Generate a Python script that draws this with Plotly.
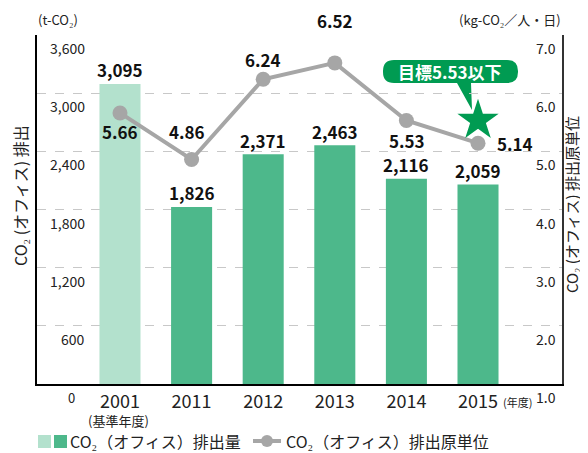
import plotly.graph_objects as go

# データ
years = ["2001", "2011", "2012", "2013", "2014", "2015"]
emissions = [3095, 1826, 2371, 2463, 2116, 2059]          # t-CO2
intensity = [5.66, 4.86, 6.24, 6.52, 5.53, 5.14]          # kg-CO2/人・日
target = 5.53
left_ticks = [0, 600, 1200, 1800, 2400, 3000, 3600]
right_ticks = [1.0, 2.0, 3.0, 4.0, 5.0, 6.0, 7.0]

FONT = "Noto Sans CJK JP"
LIGHT = "#b3e1cd"
DARK = "#4db88b"
GRAY = "#a6a6a6"
GREEN = "#009b52"

OFF = 8                      # ページの余白 (body margin)
W, H = 588 - OFF, 453 - OFF
L, R, T, B = 37, 562, 35, 384   # グラフ領域 (画面座標)


def px(x):
    return (x - L) / (R - L)


def py(y):
    return (B - y) / (B - T)


def text(x, y, s, size, color="#222", angle=0, xa="center", bold=False):
    return dict(x=px(x), y=py(y), xref="paper", yref="paper",
                text=f"<b>{s}</b>" if bold else s, showarrow=False,
                xanchor=xa, yanchor="middle", textangle=angle,
                font=dict(family=FONT, size=size, color=color))


xs = list(range(len(years)))

fig = go.Figure()

fig.add_trace(go.Bar(
    x=xs, y=emissions, width=0.573,
    marker=dict(color=[LIGHT] + [DARK] * (len(years) - 1), line=dict(width=0)),
    showlegend=False, hoverinfo="skip",
))

fig.add_trace(go.Scatter(
    x=xs, y=intensity, yaxis="y2", mode="lines+markers",
    line=dict(color=GRAY, width=4),
    marker=dict(color=GRAY, size=15),
    showlegend=False, hoverinfo="skip",
))

fig.add_trace(go.Scatter(
    x=[xs[-1]], y=[target], yaxis="y2", mode="markers",
    marker=dict(symbol="star", color=GREEN, size=31, line=dict(width=0)),
    showlegend=False, hoverinfo="skip",
))

ann = []

# 棒グラフの数値
for x, v in zip(xs, emissions):
    ann.append(dict(x=x, y=v, xref="x", yref="y", text=f"<b>{v:,}</b>",
                    showarrow=False, yshift=14, xanchor="center", yanchor="middle",
                    font=dict(family=FONT, size=17, color="#111")))

# 折れ線の数値 (位置のずれ)
offsets = [(0, 19), (-5, -28), (0, -20), (0, -42), (1, 20), (37, 0)]
for x, v, (dx, dy) in zip(xs, intensity, offsets):
    ann.append(dict(x=x, y=v, xref="x", yref="y2", text=f"<b>{v:.2f}</b>",
                    showarrow=False, xshift=dx, yshift=-dy,
                    xanchor="center", yanchor="middle",
                    font=dict(family=FONT, size=17, color="#111")))

# 左軸目盛
for v in left_ticks:
    ann.append(dict(x=px(77 if v == 0 else 87), y=v, xref="paper", yref="y",
                    text=f"{v:,}", showarrow=False, xanchor="right", yanchor="middle",
                    yshift=-13, font=dict(family=FONT, size=13 if v == 0 else 14, color="#222")))

# 右軸目盛
for v in right_ticks:
    ann.append(dict(x=px(558), y=v, xref="paper", yref="y2",
                    text=f"{v:.1f}", showarrow=False, xanchor="right", yanchor="middle",
                    yshift=-13, font=dict(family=FONT, size=14, color="#222")))

# 単位・軸タイトル・凡例
ann += [
    text(36, 19, "(t-CO₂)", 13, xa="left"),
    text(563, 19, "(kg-CO₂／人・日)", 13, xa="right"),
    text(20, 196, "CO₂ (オフィス) 排出", 16, angle=-90),
    text(571, 205, "CO₂ (オフィス) 排出原単位", 15, angle=-90),
    text(118, 420, "(基準年度)", 13),
    text(517, 402, "(年度)", 11),
    text(450, 71, f"目標{target}以下", 17, color="white", bold=True),
    text(68, 441, "CO₂（オフィス）排出量", 16, xa="left"),
    text(284, 441, "CO₂（オフィス）排出原単位", 16, xa="left"),
]

# 吹き出し
x0, x1, y0, y1, r = 383, 518, 60, 83, 11
path = (f"M {px(x0 + r)} {py(y0)} L {px(x1 - r)} {py(y0)} "
        f"Q {px(x1)} {py(y0)} {px(x1)} {py(y0 + r)} L {px(x1)} {py(y1 - r)} "
        f"Q {px(x1)} {py(y1)} {px(x1 - r)} {py(y1)} "
        f"L {px(471)} {py(y1)} L {px(472)} {py(110)} L {px(457)} {py(y1)} "
        f"L {px(x0 + r)} {py(y1)} "
        f"Q {px(x0)} {py(y1)} {px(x0)} {py(y1 - r)} L {px(x0)} {py(y0 + r)} "
        f"Q {px(x0)} {py(y0)} {px(x0 + r)} {py(y0)} Z")

shapes = [
    dict(type="path", xref="paper", yref="paper", path=path,
         fillcolor=GREEN, line=dict(width=0), layer="below"),
    # 凡例
    dict(type="rect", xref="paper", yref="paper", x0=px(38), x1=px(51), y0=py(448), y1=py(435),
         fillcolor=LIGHT, line=dict(width=0)),
    dict(type="rect", xref="paper", yref="paper", x0=px(54), x1=px(67), y0=py(448), y1=py(435),
         fillcolor=DARK, line=dict(width=0)),
    dict(type="line", xref="paper", yref="paper", x0=px(253), x1=px(281), y0=py(441), y1=py(441),
         line=dict(color=GRAY, width=4)),
    dict(type="circle", xref="paper", yref="paper", x0=px(261), x1=px(273), y0=py(447), y1=py(435),
         fillcolor=GRAY, line=dict(width=0)),
]

fig.update_layout(
    width=W, height=H,
    margin=dict(l=L - OFF, r=W - (R - OFF), t=T - OFF, b=H - (B - OFF), autoexpand=False),
    paper_bgcolor="white", plot_bgcolor="white",
    font=dict(family=FONT, color="#222"),
    xaxis=dict(range=[-1.159, 6.173], tickvals=xs, ticktext=years,
               showgrid=False, zeroline=False, showline=True, linecolor="black",
               linewidth=2, ticks="", tickfont=dict(family=FONT, size=18, color="#222")),
    yaxis=dict(range=[0, 3600], dtick=600, showgrid=True, gridcolor="#c8c8c8",
               griddash="dash", gridwidth=1, zeroline=False, showticklabels=False,
               showline=True, linecolor="black", linewidth=1.5),
    yaxis2=dict(range=[1, 7], overlaying="y", side="right", showgrid=False,
                zeroline=False, showticklabels=False, showline=True,
                linecolor="#333", linewidth=2),
    annotations=ann, shapes=shapes, showlegend=False,
)

fig.write_html("out.html")
